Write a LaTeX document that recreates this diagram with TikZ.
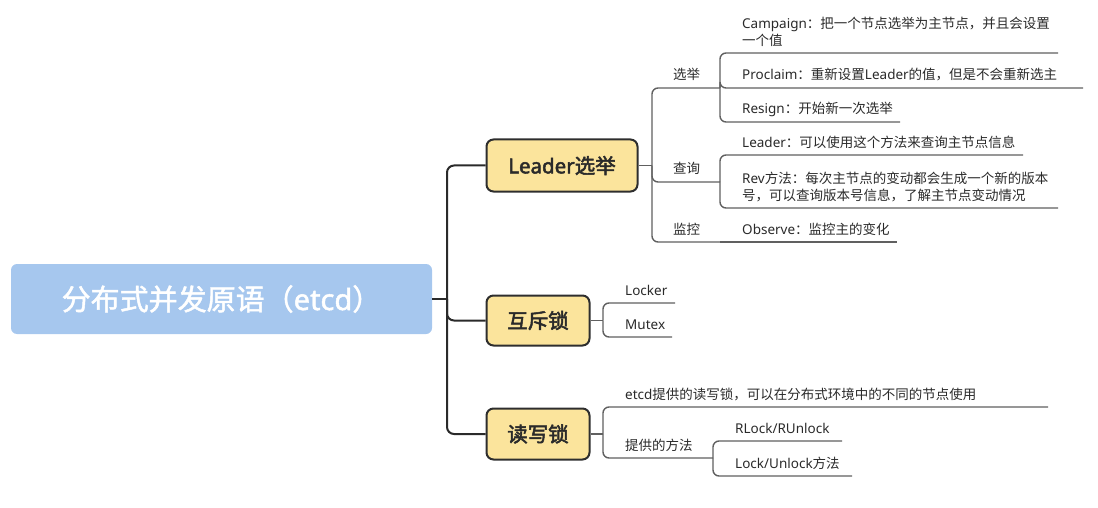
\documentclass[tikz,border=0pt]{standalone}
\usepackage{fontspec}
\setmainfont{Noto Sans CJK SC}
\newfontfamily\latinfam{Noto Sans}
\newfontfamily\medfam[FakeBold=1.6]{Noto Sans CJK SC}
\newfontfamily\latinmed[FakeBold=1.6]{Noto Sans}
\newfontfamily\semifam[FakeBold=2.4]{Noto Sans CJK SC}
\newfontfamily\latinsemi[FakeBold=2.4]{Noto Sans}
\newcommand\La[1]{{\latinfam #1}}
\newcommand\Lm[1]{{\latinmed #1}}
\newcommand\Ls[1]{{\latinsemi #1}}
\definecolor{rootfill}{HTML}{A6C7EE}
\definecolor{mainfill}{HTML}{FBE49C}
\definecolor{mainborder}{HTML}{2E2E2E}
\definecolor{trunkcol}{HTML}{2A2A2A}
\definecolor{branchcol}{HTML}{606060}
\definecolor{txt}{HTML}{2A2A2A}
\tikzset{
  rootbox/.style={fill=rootfill, rounded corners=6pt, text=white, inner sep=0pt,
    font=\fontsize{29}{33}\medfam, minimum width=421pt, minimum height=70pt},
  mainbox/.style={fill=mainfill, draw=mainborder, line width=2pt, rounded corners=7pt,
    text=txt, inner sep=0pt, font=\fontsize{20.5}{24}\semifam},
  leaf/.style={anchor=base west, inner sep=0pt, text=txt, align=left,
    font=\fontsize{13.5}{17.5}\selectfont},
  trunkline/.style={draw=trunkcol, line width=2pt, rounded corners=7pt},
  branchline/.style={draw=branchcol, line width=1.4pt, rounded corners=6pt},
}
\begin{document}
\begin{tikzpicture}[x=1pt,y=-1pt]
\useasboundingbox (0,0) rectangle (1098,508);
% main nodes
\node[rootbox] (R) at (221.5,299) {分布式并发原语（\Lm{etcd}）};
\node[mainbox, minimum width=151pt, minimum height=52pt] (L) at (562,165.5) {\Ls{Leader}选举};
\node[mainbox, minimum width=103pt, minimum height=50pt] (M) at (538,320.5) {互斥锁};
\node[mainbox, minimum width=103pt, minimum height=51pt] (D) at (538,434) {读写锁};
% junctions
\coordinate (jR) at (447,299);
\coordinate (jL) at (652,165.5);
\coordinate (jM) at (603,320.5);
\coordinate (jD) at (603,434);
% trunk
\draw[trunkline] (R.east) -- (jR);
\draw[trunkline] (jR) |- (L.west);
\draw[trunkline] (jR) |- (M.west);
\draw[trunkline] (jR) |- (D.west);
% Leader branch
\node[leaf] (xj) at (673,80) {选举};
\node[leaf] (cx) at (673,174) {查询};
\node[leaf] (jk) at (673,234) {监控};
\coordinate (xjE) at (720,88);
\coordinate (cxE) at (720,182);
\coordinate (jkE) at (720,242);
\node[leaf] (camp) at (742,46) {\La{Campaign}：把一个节点选举为主节点，并且会设置\\一个值};
\node[leaf] (proc) at (742,80) {\La{Proclaim}：重新设置\La{Leader}的值，但是不会重新选主};
\node[leaf] (resi) at (742,114) {\La{Resign}：开始新一次选举};
\node[leaf] (lead) at (742,147.5) {\La{Leader}：可以使用这个方法来查询主节点信息};
\node[leaf] (rev) at (742,200.5) {\La{Rev}方法：每次主节点的变动都会生成一个新的版本\\号，可以查询版本号信息，了解主节点变动情况};
\node[leaf] (obs) at (742,234) {\La{Observe}：监控主的变化};
\coordinate (campE) at (1058,53);
\coordinate (procE) at (1083,88);
\coordinate (resiE) at (900,122);
\coordinate (leadE) at (1023,155);
\coordinate (revE) at (1058,208);
\coordinate (obsE) at (897,242);
\draw[branchline] (L.east) -- (jL);
\draw[branchline] (jL) |- (xjE);
\draw[branchline] (jL) |- (cxE);
\draw[branchline] (jL) |- (jkE);
\draw[branchline] (xjE) |- (campE);
\draw[branchline] (xjE) |- (procE);
\draw[branchline] (xjE) |- (resiE);
\draw[branchline] (cxE) |- (leadE);
\draw[branchline] (cxE) |- (revE);
\draw[branchline] (jkE) -- (obsE);
% mutex branch
\node[leaf] (lock) at (625,295) {\La{Locker}};
\node[leaf] (mutx) at (625,329) {\La{Mutex}};
\coordinate (lockE) at (675,303);
\coordinate (mutxE) at (672,337);
\draw[branchline] (M.east) -- (jM);
\draw[branchline] (jM) |- (lockE);
\draw[branchline] (jM) |- (mutxE);
% rw lock branch
\node[leaf] (etcd) at (625,399) {\La{etcd}提供的读写锁，可以在分布式环境中的不同的节点使用};
\node[leaf] (tgff) at (625,450.5) {提供的方法};
\node[leaf] (rl) at (735,433) {\La{RLock/RUnlock}};
\node[leaf] (lu) at (735,468) {\La{Lock/Unlock}方法};
\coordinate (etcdE) at (1048,407);
\coordinate (tgffE) at (713,458);
\coordinate (rlE) at (842,441);
\coordinate (luE) at (852,476);
\draw[branchline] (D.east) -- (jD);
\draw[branchline] (jD) |- (etcdE);
\draw[branchline] (jD) |- (tgffE);
\draw[branchline] (tgffE) |- (rlE);
\draw[branchline] (tgffE) |- (luE);
\end{tikzpicture}
\end{document}
